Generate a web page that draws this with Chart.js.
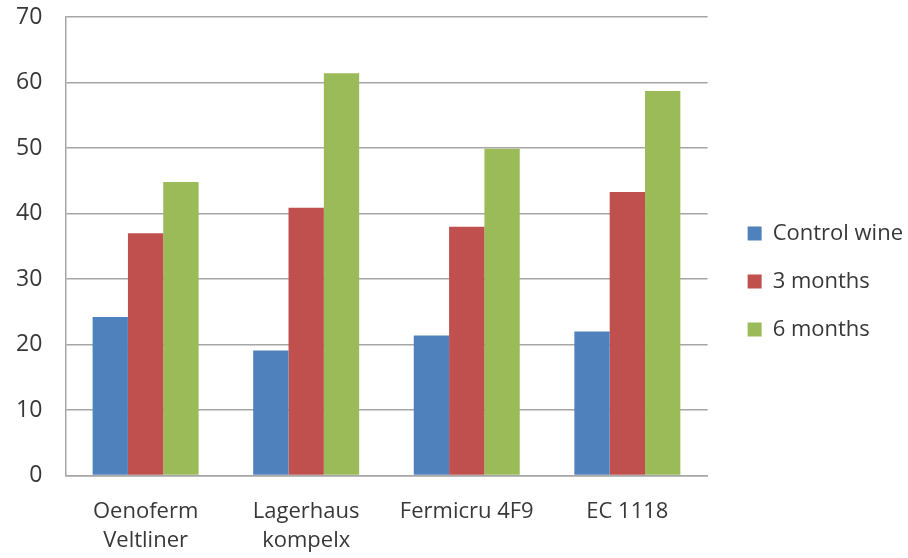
<!DOCTYPE html>
<html>
<head>
<meta charset="utf-8">
<script src="https://cdn.jsdelivr.net/npm/chart.js@4"></script>
<style>
  html, body { margin: 0; padding: 0; background: #ffffff; }
  #wrap { width: 908px; height: 558px; }
</style>
</head>
<body>
<div id="wrap"><canvas id="barChart" width="908" height="558"></canvas></div>
<script>
// categories and series
const yeasts = [["Oenoferm", "Veltliner"], ["Lagerhaus", "kompelx"], "Fermicru 4F9", "EC 1118"];
const controlWine = [24.2, 19.1, 21.4, 22.0];
const threeMonths = [37.0, 40.9, 38.0, 43.3];
const sixMonths = [44.8, 61.4, 49.9, 58.7];
const yTicks = [0, 10, 20, 30, 40, 50, 60, 70];

const textColor = "#383838";
const lineColor = "#a6a6a6";
const legendGap = 14; // extra room between plot and legend
const legendLift = 5; // legend sits a little above the middle

// widen the legend box and push its items right, so the gap to the plot grows
const legendGapPlugin = {
  id: "legendGap",
  beforeInit(chart) {
    const fit = chart.legend.fit;
    chart.legend.fit = function () {
      fit.call(this);
      this.width += legendGap;
    };
  },
  afterLayout(chart) {
    chart.legend.left += legendGap;
    chart.legend.top -= legendLift;
    chart.legend.bottom -= legendLift;
  },
};

new Chart(document.getElementById("barChart"), {
  type: "bar",

  data: {
    labels: yeasts,

    datasets: [
      {
        label: "Control wine",
        data: controlWine,
        backgroundColor: "#4f81bd",
        categoryPercentage: 0.66,
        barPercentage: 1.0,
      },
      {
        label: "3 months",
        data: threeMonths,
        backgroundColor: "#c0504d",
        categoryPercentage: 0.66,
        barPercentage: 1.0,
      },
      {
        label: "6 months",
        data: sixMonths,
        backgroundColor: "#9bbb59",
        categoryPercentage: 0.66,
        barPercentage: 1.0,
      },
    ],
  },

  plugins: [legendGapPlugin],

  options: {
    responsive: false,
    animation: false,

    layout: {
      padding: { left: 16, right: -5, top: 17, bottom: 2 },
    },

    plugins: {
      legend: {
        position: "right",
        align: "center",

        labels: {
          color: textColor,
          font: { family: "Open Sans", size: 22 },
          boxWidth: 14,
          boxHeight: 14,
          padding: 26,
        },
      },
      tooltip: { enabled: false },
    },

    scales: {
      x: {
        // invisible tick marks give the gap under the axis
        grid: { display: false, drawTicks: true, tickLength: 21 },
        border: { display: true, color: lineColor, width: 1.5 },

        ticks: {
          color: textColor,
          padding: 0,
          maxRotation: 0,
          font: { family: "Open Sans", size: 22, lineHeight: 1.35 },
        },
      },

      y: {
        min: 0,
        max: 70,
        afterBuildTicks: (axis) => {
          axis.ticks = yTicks.map((v) => ({ value: v }));
        },

        grid: {
          color: lineColor,
          lineWidth: 1.5,
          drawTicks: true,
          tickLength: 23,
          tickColor: "rgba(0,0,0,0)",
        },
        border: { display: true, color: lineColor, width: 1.5 },

        ticks: {
          color: textColor,
          padding: 0,
          font: { family: "Open Sans", size: 23 },
        },
      },
    },
  },
});
</script>
</body>
</html>
